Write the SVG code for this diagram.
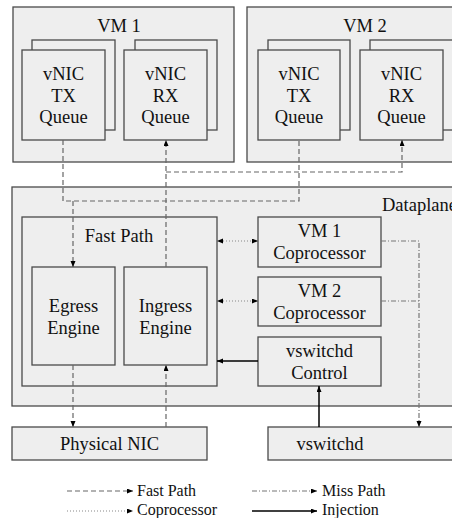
<svg xmlns="http://www.w3.org/2000/svg" width="452" height="518" viewBox="0 0 452 518" font-family="Liberation Serif, Times New Roman, serif">
<defs>
<marker id="ah" markerUnits="userSpaceOnUse" markerWidth="7" markerHeight="6" refX="6" refY="2.5" orient="auto-start-reverse"><path d="M0,0 L6,2.5 L0,5 z" fill="#000"/></marker>
<style>
.box{fill:#eeeeee;stroke:#4a4a4a;stroke-width:1.3}
.t{font-size:18.5px;fill:#111;text-anchor:middle}
.lt{font-size:16px;fill:#111}
.c{fill:none;stroke-width:1.2}
.fast{stroke:#666;stroke-dasharray:5,3}
.cop{stroke:#888;stroke-dasharray:1,2}
.miss{stroke:#777;stroke-dasharray:5,2,1,2}
.inj{stroke:#000;stroke-width:1.5}
</style>
</defs>
<rect width="452" height="518" fill="#fff"/>

<g id="vm1">
<rect class="box" x="13" y="7" width="221" height="155"/>
<text class="t" x="119" y="32" font-family="Liberation Serif, serif">VM 1</text>
</g>
<g id="vm1-tx" font-family="Liberation Serif, serif">
<rect class="box" x="32" y="40" width="83" height="90"/>
<rect class="box" x="22" y="50" width="83" height="90"/>
<text class="t" x="63.5" y="80">vNIC</text>
<text class="t" x="63.5" y="102">TX</text>
<text class="t" x="63.5" y="123">Queue</text>
</g>
<g id="vm1-rx" font-family="Liberation Serif, serif">
<rect class="box" x="135" y="40" width="82" height="90"/>
<rect class="box" x="124" y="50" width="83" height="90"/>
<text class="t" x="165.5" y="80">vNIC</text>
<text class="t" x="165.5" y="102">RX</text>
<text class="t" x="165.5" y="123">Queue</text>
</g>

<g id="vm2" font-family="Liberation Serif, serif">
<rect class="box" x="247" y="7" width="221" height="155"/>
<text class="t" x="365" y="32">VM 2</text>
</g>
<g id="vm2-tx" font-family="Liberation Serif, serif">
<rect class="box" x="268" y="40" width="82" height="90"/>
<rect class="box" x="258" y="50" width="82" height="90"/>
<text class="t" x="299" y="80">vNIC</text>
<text class="t" x="299" y="102">TX</text>
<text class="t" x="299" y="123">Queue</text>
</g>
<g id="vm2-rx" font-family="Liberation Serif, serif">
<rect class="box" x="370" y="40" width="83" height="90"/>
<rect class="box" x="360" y="50" width="83" height="90"/>
<text class="t" x="401.5" y="80">vNIC</text>
<text class="t" x="401.5" y="102">RX</text>
<text class="t" x="401.5" y="123">Queue</text>
</g>

<g id="dataplane" font-family="Liberation Serif, serif">
<rect class="box" x="12" y="187" width="460" height="219"/>
<text class="t" x="382" y="211" text-anchor="start" style="text-anchor:start">Dataplane</text>
</g>
<g id="fastpath" font-family="Liberation Serif, serif">
<rect class="box" x="22" y="217" width="195" height="169"/>
<text class="t" x="119" y="242">Fast Path</text>
</g>
<g id="egress" font-family="Liberation Serif, serif">
<rect class="box" x="32" y="267" width="83" height="98"/>
<text class="t" x="73.5" y="312">Egress</text>
<text class="t" x="73.5" y="334">Engine</text>
</g>
<g id="ingress" font-family="Liberation Serif, serif">
<rect class="box" x="124" y="267" width="83" height="98"/>
<text class="t" x="165.5" y="312">Ingress</text>
<text class="t" x="165.5" y="334">Engine</text>
</g>
<g id="vm1-coproc" font-family="Liberation Serif, serif">
<rect class="box" x="258" y="217" width="123" height="50"/>
<text class="t" x="319.5" y="237">VM 1</text>
<text class="t" x="319.5" y="259">Coprocessor</text>
</g>
<g id="vm2-coproc" font-family="Liberation Serif, serif">
<rect class="box" x="258" y="277" width="123" height="49"/>
<text class="t" x="319.5" y="297">VM 2</text>
<text class="t" x="319.5" y="319">Coprocessor</text>
</g>
<g id="vswitchd-control" font-family="Liberation Serif, serif">
<rect class="box" x="258" y="337" width="123" height="49"/>
<text class="t" x="319.5" y="357">vswitchd</text>
<text class="t" x="319.5" y="379">Control</text>
</g>
<g id="physical-nic" font-family="Liberation Serif, serif">
<rect class="box" x="12" y="427" width="195" height="33"/>
<text class="t" x="109.5" y="450">Physical NIC</text>
</g>
<g id="vswitchd" font-family="Liberation Serif, serif">
<rect class="box" x="268" y="427" width="200" height="33"/>
<text class="t" x="330" y="450">vswitchd</text>
</g>

<g id="connectors">
<path class="c fast" d="M63,140 V201 H299 V140"/>
<path class="c fast" d="M73,201 V267" marker-end="url(#ah)"/>
<path class="c fast" d="M166,267 V140" marker-end="url(#ah)"/>
<path class="c fast" d="M166,172 H402 V140" marker-end="url(#ah)"/>
<path class="c fast" d="M73,365 V427" marker-end="url(#ah)"/>
<path class="c fast" d="M166,427 V365" marker-end="url(#ah)"/>
<path class="c cop" d="M217,241 H258" marker-start="url(#ah)" marker-end="url(#ah)"/>
<path class="c cop" d="M217,301 H258" marker-start="url(#ah)" marker-end="url(#ah)"/>
<path class="c inj" d="M258,361 H217" marker-end="url(#ah)"/>
<path class="c inj" d="M319,427 V386" marker-end="url(#ah)"/>
<path class="c miss" d="M381,241 H419 V427" marker-end="url(#ah)"/>
<path class="c miss" d="M381,301 H419"/>
</g>

<g id="legend" font-family="Liberation Serif, serif">
<path class="c fast" d="M67,491 H133" marker-end="url(#ah)"/>
<text class="lt" x="137" y="496">Fast Path</text>
<path class="c miss" d="M252,491 H317" marker-end="url(#ah)"/>
<text class="lt" x="322" y="496">Miss Path</text>
<path class="c cop" d="M67,511 H133" marker-end="url(#ah)"/>
<text class="lt" x="137" y="515">Coprocessor</text>
<path class="c inj" d="M252,511 H317" marker-end="url(#ah)"/>
<text class="lt" x="322" y="515">Injection</text>
</g>
</svg>
